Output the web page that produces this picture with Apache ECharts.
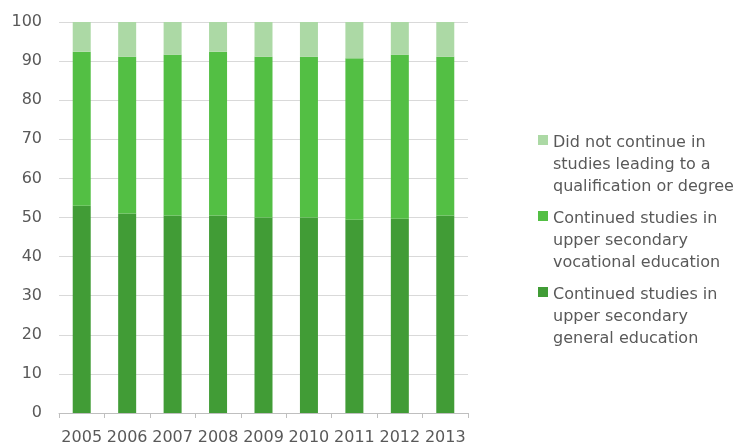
<!DOCTYPE html>
<html>
<head>
<meta charset="utf-8">
<script src="https://cdn.jsdelivr.net/npm/echarts@6/dist/echarts.min.js"></script>
<style>html,body{margin:0;padding:0;background:#fff}#c{width:744px;height:443px}</style>
</head>
<body>
<div id="c"></div>
<script>
const years = ['2005','2006','2007','2008','2009','2010','2011','2012','2013'];
const general = [53.0, 51.0, 50.5, 50.5, 50.0, 50.0, 49.4, 49.7, 50.5];
const vocational = [39.4, 40.1, 41.1, 41.9, 41.1, 41.1, 41.3, 41.9, 40.6];
const notContinued = [7.6, 8.9, 8.4, 7.6, 8.9, 8.9, 9.3, 8.4, 8.9];
const yTicks = [0, 10, 20, 30, 40, 50, 60, 70, 80, 90, 100];

const nameGeneral = 'Continued studies in\nupper secondary\ngeneral education';
const nameVoc = 'Continued studies in\nupper secondary\nvocational education';
const nameNot = 'Did not continue in\nstudies leading to a\nqualification or degree';

const font = '"DejaVu Sans", sans-serif';
const txt = '#595959';
const chart = echarts.init(document.getElementById('c'));
const iconPath = 'path://M0,0L0.01,0M0,3L10,3L10,13L0,13ZM0,66L0.01,66';

chart.setOption({
  animation: false,
  grid: { left: 59, right: 276, top: 22, bottom: 30, containLabel: false, outerBoundsMode: 'none' },
  legend: {
    orient: 'vertical',
    left: 533,
    top: 127,
    data: [nameNot, nameVoc, nameGeneral],
    icon: iconPath,
    itemWidth: 10,
    itemHeight: 66,
    itemGap: 10,
    textStyle: { color: txt, fontSize: 16, fontFamily: font, lineHeight: 22 }
  },
  xAxis: {
    type: 'category',
    data: years,
    axisLine: { lineStyle: { color: '#bfbfbf' } },
    axisTick: { show: true, length: 5, lineStyle: { color: '#bfbfbf' } },
    axisLabel: { color: txt, fontSize: 16, fontFamily: font, margin: 17, interval: 0 }
  },
  yAxis: {
    type: 'value',
    min: yTicks[0],
    max: yTicks[yTicks.length - 1],
    interval: 10,
    axisLine: { show: false },
    axisTick: { show: false },
    splitLine: { lineStyle: { color: '#d9d9d9' } },
    axisLabel: { color: txt, fontSize: 16, fontFamily: font, margin: 17 }
  },
  series: [
    { name: nameGeneral, type: 'bar', stack: 's', data: general, barWidth: 18, itemStyle: { color: '#419c36' } },
    { name: nameVoc, type: 'bar', stack: 's', data: vocational, barWidth: 18, itemStyle: { color: '#53bf44' } },
    { name: nameNot, type: 'bar', stack: 's', data: notContinued, barWidth: 18, itemStyle: { color: '#acd9a5' } }
  ]
});
</script>
</body>
</html>
